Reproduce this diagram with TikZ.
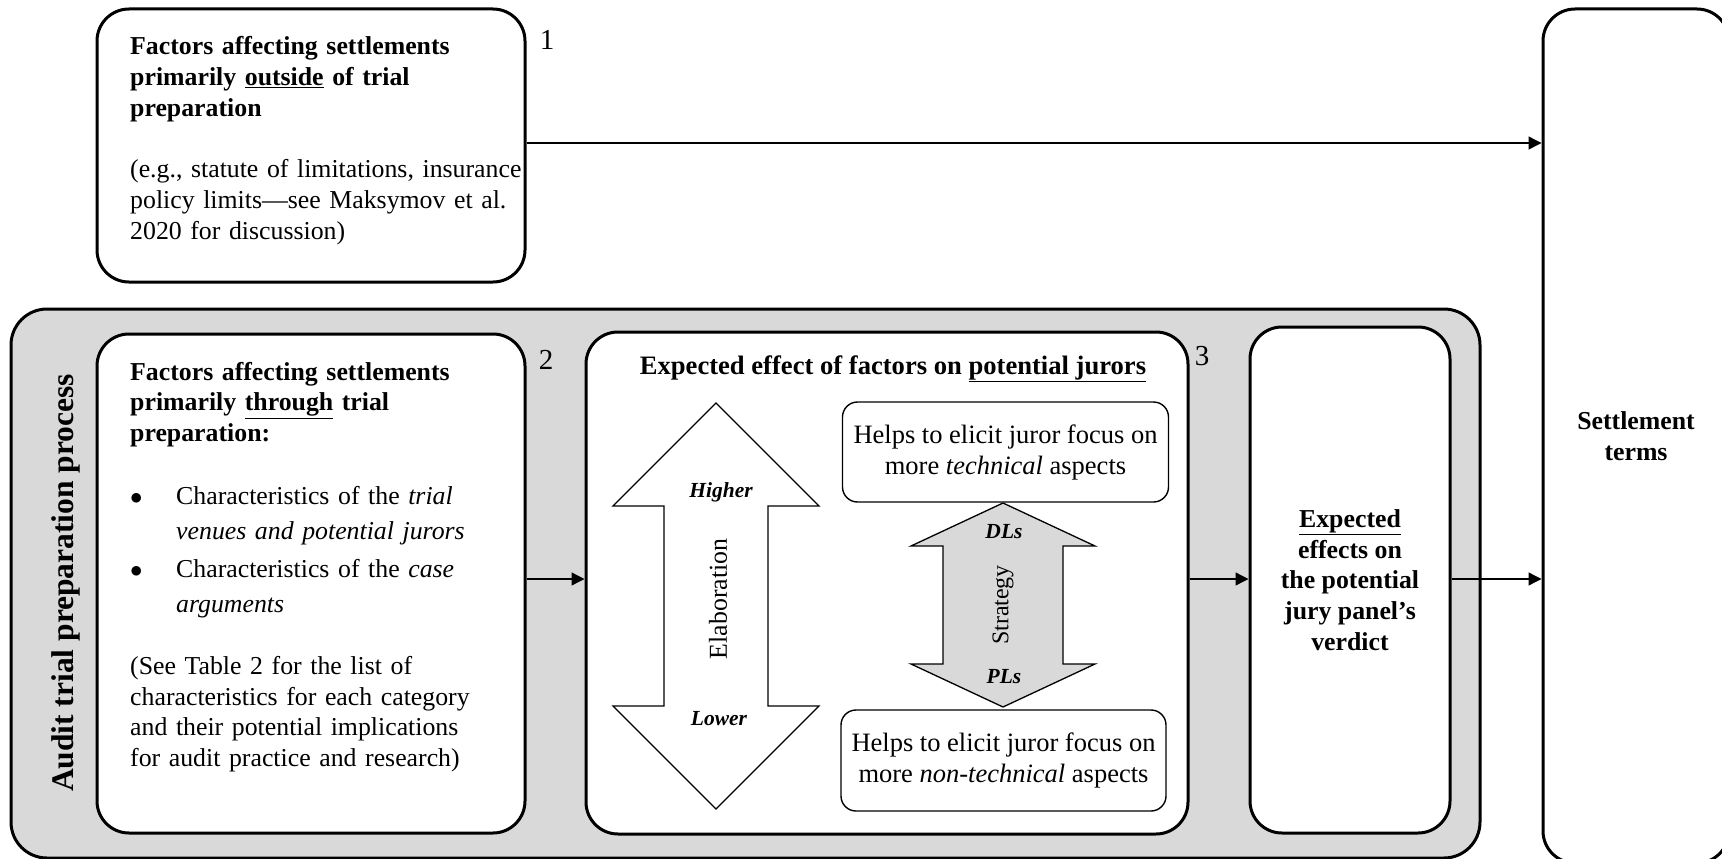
\documentclass[tikz,border=0pt]{standalone}
\usepackage{fontspec}
\setmainfont{Liberation Serif}
\usetikzlibrary{arrows.meta}
\newcommand{\bodyfont}{\fontsize{25.8}{30.7}\selectfont}

\begin{document}
\begin{tikzpicture}[x=1pt,y=-1pt,font=\bodyfont,
  bigbox/.style={draw,line width=3pt,rounded corners=32pt,fill=white},
  smallbox/.style={draw,line width=1.4pt,rounded corners=15pt,fill=white,align=center,font=\fontsize{26.5}{31}\selectfont},
  flow/.style={line width=1.3pt,-{Triangle[length=13pt,width=13pt]}},
  fatarrow/.style={draw,line width=1.3pt},
  tag/.style={anchor=base,font=\fontsize{21.5}{25}\selectfont\bfseries\itshape},
  num/.style={anchor=base,font=\fontsize{29}{32}\selectfont},
  txt/.style={inner sep=0pt,anchor=base west,align=left,text width=430pt}]
\useasboundingbox (0,0) rectangle (1722,859);
\clip (0,0) rectangle (1722,859);

\node[bigbox,fill=black!15,rounded corners=36pt,minimum width=1469pt,minimum height=549pt] (prep) at (745.5,583.5) {};
\node[rotate=90,font=\fontsize{31.5}{36}\selectfont\bfseries] (prepname) at (66,583) {Audit trial preparation process};

\node[bigbox,minimum width=428pt,minimum height=273pt] (outside) at (311,145.5) {};
\node[txt] (outsidetext) at (130,55) {{\bfseries Factors affecting settlements\\
primarily \underline{outside} of trial\\
preparation}\\[30.7pt]
(e.g., statute of limitations, insurance\\
policy limits—see Maksymov et al.\\
2020 for discussion)};
\node[num] (n1) at (547,50) {1};

\node[bigbox,minimum width=428pt,minimum height=499pt] (through) at (311,583.5) {};
\node[txt] (throughtext) at (130,380) {{\bfseries Factors affecting settlements\\
primarily \underline{through} trial\\
preparation:}\\[32pt]
\makebox[46pt][l]{$\bullet$}Characteristics of the \textit{trial}\\[4.8pt]
\hspace*{46pt}\textit{venues and potential jurors}\\[7pt]
\makebox[46pt][l]{$\bullet$}Characteristics of the \textit{case}\\[4.8pt]
\hspace*{46pt}\textit{arguments}\\[31pt]
(See Table 2 for the list of\\
characteristics for each category\\
and their potential implications\\
for audit practice and research)};
\node[num] (n2) at (546,369) {2};

\node[bigbox,minimum width=602pt,minimum height=502pt] (jurors) at (887,583) {};
\node[anchor=base,font=\fontsize{26.6}{31}\selectfont\bfseries] (jurorstitle) at (893,374) {Expected effect of factors on \underline{potential jurors}};
\node[num] (n3) at (1202,365) {3};

\draw[fatarrow,fill=white] (716,403) -- (819,506) -- (768,506) -- (768,706) -- (819,706) -- (716,809)
  -- (613,706) -- (664,706) -- (664,506) -- (613,506) -- cycle;
\node[tag] (higher) at (721,497) {Higher};
\node[tag] (lower) at (719,725) {Lower};
\node[rotate=90] (elab) at (718,599) {Elaboration};

\draw[fatarrow,fill=black!15] (1003,503) -- (1095,546) -- (1063,546) -- (1063,664) -- (1095,664) -- (1003,707)
  -- (911,664) -- (943,664) -- (943,546) -- (911,546) -- cycle;
\node[tag] (dls) at (1004,538) {DLs};
\node[tag] (pls) at (1004,683) {PLs};
\node[rotate=90,font=\fontsize{24}{28}\selectfont] (strat) at (1003,605) {Strategy};

\node[smallbox,minimum width=326pt,minimum height=100pt] (techbox) at (1005.5,452) {Helps to elicit juror focus on\\more \textit{technical} aspects};
\node[smallbox,minimum width=325pt,minimum height=101pt] (nontechbox) at (1003.5,760.5) {Helps to elicit juror focus on\\more \textit{non-technical} aspects};

\node[bigbox,align=center,font=\bodyfont\bfseries,minimum width=200pt,minimum height=506pt] (verdict) at (1350,580) {\underline{Expected}\\effects on\\the potential\\jury panel’s\\verdict};

\node[bigbox,align=center,font=\bodyfont\bfseries,minimum width=186pt,minimum height=854pt] (settle) at (1636,436) {Settlement\\terms};

\coordinate (toprow) at (0,143);
\coordinate (midrow) at (0,579);
\draw[flow] (outside.east |- toprow) -- (settle.west |- toprow);
\draw[flow] (through.east |- midrow) -- (jurors.west |- midrow);
\draw[flow] (jurors.east |- midrow) -- (verdict.west |- midrow);
\draw[flow] (verdict.east |- midrow) -- (settle.west |- midrow);
\end{tikzpicture}
\end{document}
